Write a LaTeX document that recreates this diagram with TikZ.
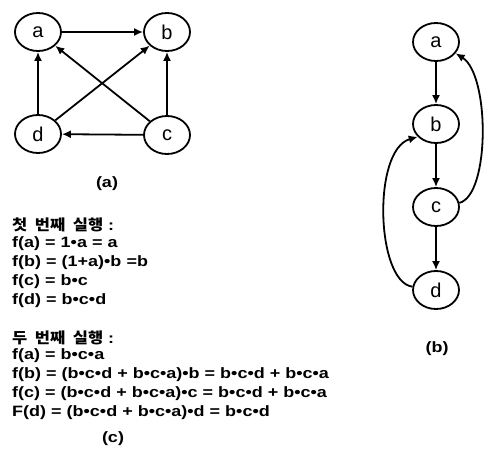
\documentclass[tikz,border=0pt]{standalone}
\usepackage{fontspec}
\setmainfont{Liberation Sans}
\newfontfamily\widefont[FakeStretch=1.2]{Liberation Sans}
\newfontfamily\krfont[FakeStretch=1.1]{Noto Sans CJK KR}
\usetikzlibrary{arrows.meta,shapes.geometric}
\begin{document}
\begin{tikzpicture}[x=1pt,y=-1pt,
  vert/.style={draw,ellipse,line width=1.8pt,minimum width=46pt,minimum height=38pt,inner sep=0pt,font=\fontsize{20}{20}\selectfont},
  edge/.style={line width=1.8pt,-{Latex[length=9pt,width=8pt]}},
  sublabel/.style={font=\widefont\bfseries\fontsize{15}{15}\selectfont},
  txt/.style={anchor=west,font=\widefont\bfseries\fontsize{15}{15}\selectfont,inner sep=0pt}]
\useasboundingbox (0,0) rectangle (487,453);
% graph (a)
\node[vert] (a) at (38,32) {a};
\node[vert] (b) at (167,32) {b};
\node[vert] (d) at (38,134) {d};
\node[vert] (c) at (167,135) {c};
\draw[edge] (a) -- (b);
\draw[edge] (c) -- (b);
\draw[edge] (d) -- (a);
\draw[edge] (c) -- (d);
\draw[edge] (c) -- (a);
\draw[edge] (d) -- (b);
\node[sublabel] (la) at (107,184) {(a)};
% graph (b)
\node[vert] (a2) at (436,42) {a};
\node[vert] (b2) at (436,124) {b};
\node[vert] (c2) at (436,207) {c};
\node[vert] (d2) at (436,290) {d};
\draw[edge] (a2) -- (b2);
\draw[edge] (b2) -- (c2);
\draw[edge] (c2) -- (d2);
\draw[edge] (c2.10) .. controls (490,195) and (490,75) .. (a2.-30);
\draw[edge] (d2.172) .. controls (376,282) and (372,150) .. (b2.-145);
\node[sublabel] (lb) at (437,349) {(b)};
% iterations (c)
\node[txt] (t1) at (12,225) {{\krfont\bfseries 첫\ \ 번째\ \ 실행} :};
\node[txt] (t2) at (12,244) {f(a) = 1•a = a};
\node[txt] (t3) at (12,263) {f(b) = (1+a)•b =b};
\node[txt] (t4) at (12,282) {f(c) = b•c};
\node[txt] (t5) at (12,301) {f(d) = b•c•d};
\node[txt] (s1) at (12,338) {{\krfont\bfseries 두\ \ 번째\ \ 실행} :};
\node[txt] (s2) at (12,356) {f(a) = b•c•a};
\node[txt] (s3) at (12,375) {f(b) = (b•c•d + b•c•a)•b = b•c•d + b•c•a};
\node[txt] (s4) at (12,394) {f(c) = (b•c•d + b•c•a)•c = b•c•d + b•c•a};
\node[txt] (s5) at (12,413) {F(d) = (b•c•d + b•c•a)•d = b•c•d};
\node[sublabel] (lc) at (113,439) {(c)};
\end{tikzpicture}
\end{document}
